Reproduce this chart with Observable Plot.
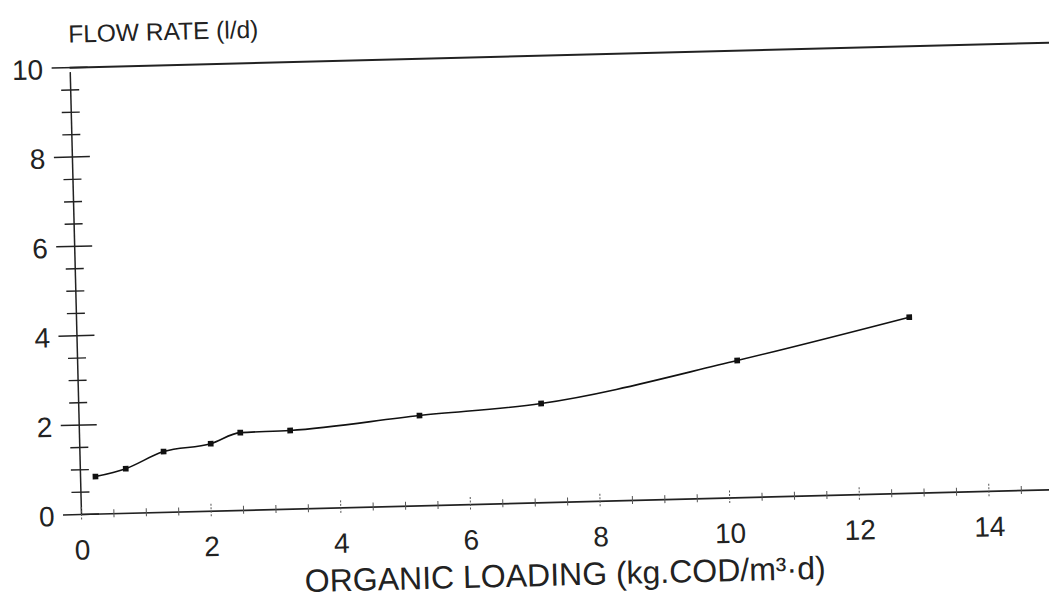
<!DOCTYPE html>
<html>
<head>
<meta charset="utf-8">
<script src="https://cdn.jsdelivr.net/npm/d3@7"></script>
<script src="https://cdn.jsdelivr.net/npm/@observablehq/plot@0.6"></script>
<style>
  html, body { margin: 0; padding: 0; background: #fff; overflow: hidden; }
  #chart svg { display: block; transform: rotate(-1.46deg); transform-origin: 81px 514px; }
</style>
</head>
<body>
<div id="chart"></div>
<script>
// Data
const organicLoading = [0.23, 0.70, 1.29, 2.02, 2.48, 3.25, 5.25, 7.13, 10.17, 12.84];
const flowRate       = [0.84, 1.00, 1.36, 1.51, 1.74, 1.76, 2.02, 2.22, 3.07, 3.94];
const yTickLabels = [0, 2, 4, 6, 8, 10];
const yMinorTicks = [0.5, 1, 1.5, 2.5, 3, 3.5, 4.5, 5, 5.5, 6.5, 7, 7.5, 8.5, 9, 9.5];
const xTickLabels = [0, 2, 4, 6, 8, 10, 12, 14];
const xMinorTicks = [0.5, 1, 1.5, 2.5, 3, 3.5, 4.5, 5, 5.5, 6.5, 7, 7.5, 8.5, 9, 9.5, 10.5, 11, 11.5, 12.5, 13, 13.5, 14.5];
const yTitle = "FLOW RATE (l/d)";
const xTitle = "ORGANIC LOADING (kg.COD/m³·d)";

const data = organicLoading.map((x, i) => ({x, y: flowRate[i]}));
const font = "'Liberation Sans', Arial, Helvetica, sans-serif";

const chart = Plot.plot({
  width: 1049,
  height: 613,
  marginLeft: 81,
  marginRight: 0,
  marginTop: 67,
  marginBottom: 99,
  style: {fontFamily: font, background: "transparent", overflow: "visible"},
  x: {domain: [0, 14.93], axis: null},
  y: {domain: [0, 10], axis: null},
  marks: [
    // axes lines (extended past the right edge, as in the scan)
    Plot.ruleY([0], {stroke: "#222", strokeWidth: 1.7, insetRight: -20}),
    Plot.ruleY([10], {stroke: "#222", strokeWidth: 2, insetRight: -20}),
    Plot.ruleX([0], {y1: 0, y2: 10, stroke: "#222", strokeWidth: 1.5, insetBottom: -5}),
    // y ticks crossing the axis
    Plot.ruleY(yTickLabels, {x1: 0, x2: 0, insetLeft: -18, insetRight: -18, stroke: "#222", strokeWidth: 1.5}),
    Plot.ruleY(yMinorTicks, {x1: 0, x2: 0, insetLeft: -9, insetRight: -9, stroke: "#222", strokeWidth: 1.4}),
    // x ticks crossing the axis
    Plot.ruleX(xTickLabels, {y1: 0, y2: 0, insetTop: -7, insetBottom: -7, stroke: "#555", strokeWidth: 1, strokeDasharray: "2,1.5"}),
    Plot.ruleX(xMinorTicks, {y1: 0, y2: 0, insetTop: -4, insetBottom: -4, stroke: "#555", strokeWidth: 1}),
    // tick labels
    Plot.text(yTickLabels, {x: 0, y: d => d, text: d => String(d), textAnchor: "end", dx: -27, dy: 2, fontSize: 28, fill: "#222"}),
    Plot.text(xTickLabels, {x: d => d, y: 0, text: d => String(d), dy: 36, fontSize: 28, fill: "#222"}),
    // titles
    Plot.text([yTitle], {frameAnchor: "top-left", text: d => d, textAnchor: "start", lineAnchor: "middle", dx: -1, dy: -33, fontSize: 24.5, fill: "#222"}),
    Plot.text([xTitle], {frameAnchor: "bottom", text: d => d, lineAnchor: "middle", dx: -2, dy: 73, fontSize: 32, fill: "#222"}),
    // data
    Plot.line(data, {x: "x", y: "y", curve: "monotone-x", stroke: "#111", strokeWidth: 1.6}),
    Plot.dot(data, {x: "x", y: "y", symbol: "square", r: 3.2, fill: "#111", stroke: "none"})
  ]
});
document.getElementById("chart").appendChild(chart);
</script>
</body>
</html>
